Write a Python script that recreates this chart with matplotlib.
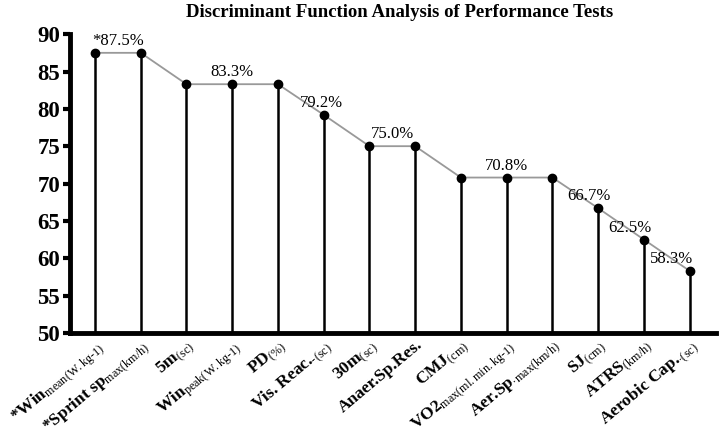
import matplotlib.pyplot as plt

plt.rcParams['font.family'] = ['Liberation Serif', 'DejaVu Serif']
plt.rcParams['mathtext.fontset'] = 'custom'
plt.rcParams['mathtext.rm'] = 'Liberation Serif'
plt.rcParams['mathtext.it'] = 'Liberation Serif:italic'
plt.rcParams['mathtext.bf'] = 'Liberation Serif:bold'

# tests and discriminant accuracy (%)
tests = [
    r"*Win$_{\mathrm{mean(W.kg\text{-}1)}}$",
    r"*Sprint sp$_{\mathrm{max(km/h)}}$",
    r"5m$_{\mathrm{(sc)}}$",
    r"Win$_{\mathrm{peak(W.kg\text{-}1)}}$",
    r"PD$_{\mathrm{(\%)}}$",
    r"Vis. Reac.$_{\mathrm{\text{-}(sc)}}$",
    r"30m$_{\mathrm{(sc)}}$",
    "Anaer.Sp.Res.",
    r"CMJ$_{\mathrm{(cm)}}$",
    r"VO2$_{\mathrm{max(ml.min.kg\text{-}1)}}$",
    r"Aer.Sp$_{\mathrm{\cdot max(km/h)}}$",
    r"SJ$_{\mathrm{(cm)}}$",
    r"ATRS$_{\mathrm{(km/h)}}$",
    r"Aerobic Cap.$_{\mathrm{\cdot (sc)}}$",
]
accuracy = [87.5, 87.5, 83.3, 83.3, 83.3, 79.2, 75.0, 75.0,
            70.8, 70.8, 70.8, 66.7, 62.5, 58.3]

# which values get a text label, and where (x in category units)
label_idx = [0, 3, 5, 6, 9, 11, 12, 13]
label_x = [0.5, 3.0, 4.95, 6.5, 9.0, 10.8, 11.7, 12.6]
label_txt = ["*87.5%", "83.3%", "79.2%", "75.0%", "70.8%", "66.7%", "62.5%", "58.3%"]

x = list(range(len(tests)))

fig = plt.figure(figsize=(7.2, 4.38), dpi=100)
ax = fig.add_axes([0.097, 0.24, 0.897, 0.682])

ax.plot(x, accuracy, color="#999999", lw=1.3, zorder=2)
ax.vlines(x, 50, accuracy, color="black", lw=1.8, zorder=3)
ax.plot(x, accuracy, "o", color="black", ms=6, zorder=4)

for i, lx, t in zip(label_idx, label_x, label_txt):
    ax.text(lx, accuracy[i] + 0.5, t, ha="center", va="bottom", fontsize=12)

ax.set_xlim(-0.55, 13.57)
ax.set_ylim(50, 90)
ax.set_yticks(range(50, 91, 5))
ax.set_xticks(x)
ax.set_xticklabels(tests, rotation=40, ha="right", rotation_mode="anchor",
                   fontsize=12.5, fontweight="bold")
for lbl in ax.get_yticklabels():
    lbl.set_fontweight("bold")
    lbl.set_fontsize(16.5)

ax.spines["top"].set_visible(False)
ax.spines["right"].set_visible(False)
ax.spines["left"].set_linewidth(3.5)
ax.spines["bottom"].set_linewidth(3.5)
ax.tick_params(axis="y", width=3, length=5, pad=2)
ax.tick_params(axis="x", length=0, pad=3)

fig.text(0.555, 0.972, "Discriminant Function Analysis of Performance Tests",
         ha="center", va="center", fontsize=13.5, fontweight="bold")

fig.savefig("out.png", dpi=100)
